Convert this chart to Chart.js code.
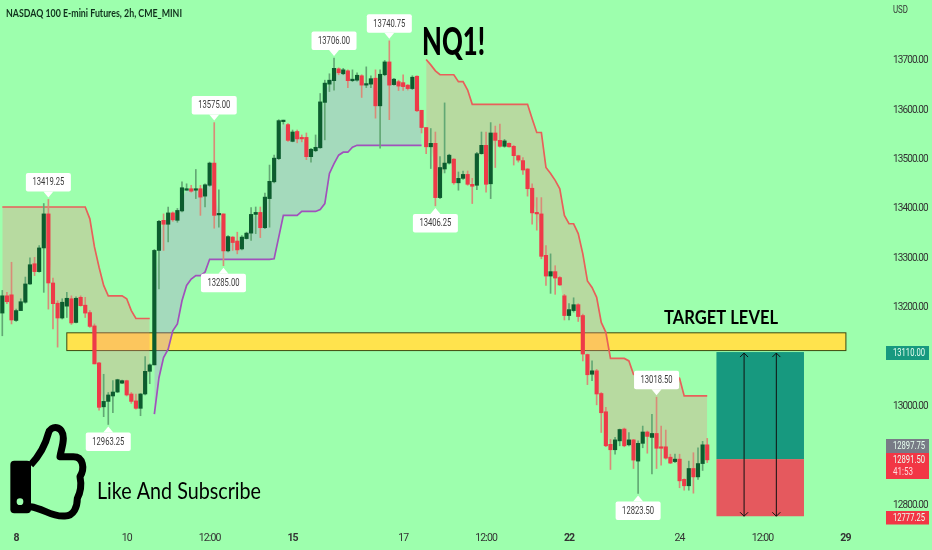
<!DOCTYPE html>
<html>
<head>
<meta charset="utf-8">
<title>NQ1!</title>
<script src="https://cdn.jsdelivr.net/npm/chart.js@4"></script>
<style>
  html, body { margin: 0; padding: 0; background: #9dffad; }
  canvas { display: block; }
</style>
</head>
<body>
<canvas id="nq-chart" width="932" height="550"></canvas>
<script>
// 2h bars
const opens = [
  13189,13224,13226,13174,13194,13211,13248,13289,13273,13321,
  13390,13250,13209,13179,13203,13218,13170,13221,13205,13190,
  13163,13088,12999,13010,13021,13029,13047,13052,13025,13011,
  12996,13025,13071,13084,13316,13377,13369,13392,13377,13396,
  13438,13441,13438,13441,13426,13448,13493,13388,13390,13315,
  13343,13335,13319,13340,13351,13389,13393,13362,13421,13455,
  13502,13577,13571,13537,13557,13545,13545,13506,13518,13524,
  13616,13653,13660,13684,13674,13680,13660,13661,13670,13651,
  13653,13665,13609,13672,13698,13652,13658,13656,13651,13644,
  13669,13600,13565,13526,13533,13423,13481,13493,13501,13453,
  13462,13470,13450,13448,13512,13529,13451,13554,13539,13527,
  13533,13527,13508,13498,13481,13442,13392,13390,13306,13264,
  13273,13261,13224,13184,13194,13206,13184,13105,13065,13072,
  13026,12989,12923,12912,12930,12954,12922,12932,12889,12925,
  12948,12937,12945,12918,12918,12897,12888,12893,12852,12839,
  12874,12857,12884,12922
];
const highs = [
  13235,13231,13292,13197,13218,13262,13301,13302,13326,13411,
  13419.25,13260,13214,13218,13231,13224,13222,13224,13221,13194,
  13167,13089,13065,13028,13052,13055,13053,13053,13028,13025,
  13026,13101,13086,13318,13377,13390,13404,13394,13401,13455,
  13451,13448,13480,13448,13451,13495,13575,13439,13390,13346,
  13344,13353,13346,13353,13403,13404,13404,13432,13489,13509,
  13581,13580,13573,13560,13560,13550,13554,13523,13550,13634,
  13661,13674,13706,13686,13685,13682,13682,13676,13672,13688,
  13670,13682,13682,13701,13740.75,13665,13661,13672,13652,13670,
  13670,13600,13565,13563,13556,13506,13615,13511,13502,13475,
  13477,13477,13462,13515,13556,13556,13575,13568,13572,13541,
  13534,13529,13509,13504,13482,13451,13423,13423,13326,13309,
  13285,13263,13227,13208,13220,13208,13187,13106,13092,13075,
  13028,12998,12933,12937,12954,12956,12947,12933,12930,12960,
  12950,12984,13018.5,12960,12952,12903,12903,12903,12853,12889,
  12906,12916,12929,12935
];
const lows = [
  13143,13208,13167,13172,13194,13209,13247,13265,13272,13231,
  13197,13157,13120,13177,13180,13166,13169,13203,13180,13160,
  13086,12992,12979,12963.25,12987,13028,13046,13021,13006,12994,
  12981,13023,13046,13084,13238,13316,13333,13375,13373,13394,
  13438,13434,13421,13387,13404,13446,13361,13363,13285,13313,
  13316,13309,13317,13339,13336,13350,13342,13360,13363,13453,
  13500,13572,13537,13536,13534,13536,13500,13495,13516,13523,
  13540,13638,13641,13672,13672,13646,13658,13659,13626,13646,
  13646,13584,13523,13670,13581,13651,13640,13640,13641,13642,
  13597,13554,13512,13482,13406.25,13421,13473,13491,13450,13438,
  13460,13448,13411,13439,13511,13434,13421,13484,13525,13525,
  13525,13489,13495,13470,13426,13369,13357,13299,13245,13229,
  13227,13245,13175,13175,13191,13172,13092,13044,13052,13003,
  12947,12918,12872,12903,12920,12918,12920,12874,12823.5,12916,
  12905,12863,12874,12881,12893,12884,12886,12835,12830,12830,
  12824,12852,12870,12886
];
const closes = [
  13224,13212,13175,13194,13212,13248,13287,13273,13321,13390,
  13250,13208,13179,13211,13219,13169,13219,13204,13189,13162,
  13086,12998,13010,13023,13029,13054,13052,13023,13010,12996,
  13025,13071,13084,13316,13375,13369,13392,13378,13397,13443,
  13441,13436,13440,13424,13449,13493,13387,13390,13315,13344,
  13332,13317,13343,13351,13389,13393,13362,13424,13456,13503,
  13579,13579,13539,13556,13542,13542,13506,13521,13525,13617,
  13655,13661,13685,13676,13682,13660,13663,13671,13651,13653,
  13664,13609,13673,13698,13651,13663,13649,13648,13644,13667,
  13599,13565,13526,13533,13423,13484,13493,13509,13453,13462,
  13470,13450,13446,13512,13529,13450,13554,13539,13527,13538,
  13526,13508,13499,13479,13441,13392,13390,13304,13264,13273,
  13260,13246,13184,13196,13206,13182,13106,13064,13072,13025,
  12987,12920,12912,12932,12953,12920,12932,12891,12925,12948,
  12939,12945,12915,12915,12895,12885,12893,12849,12839,12874,
  12857,12884,12922,12891.5
];

// supertrend, red while above price and purple while below
const trendDown = [
  13404,13404,13404,13404,13404,13404,13404,13404,13404,13404,
  13404,13404,13404,13404,13404,13404,13404,13404,13404,13380,
  13323,13282,13245,13224,13224,13224,13224,13218,13194,13178,
  13178,13178,13178,null,null,null,null,null,null,null,
  null,null,null,null,null,null,null,null,null,null,
  null,null,null,null,null,null,null,null,null,null,
  null,null,null,null,null,null,null,null,null,null,
  null,null,null,null,null,null,null,null,null,null,
  null,null,null,null,null,null,null,null,null,null,
  null,null,13703,13692,13680,13672,13672,13672,13672,13658,
  13658,13641,13612,13612,13612,13612,13612,13612,13612,13612,
  13612,13612,13612,13612,13612,13583,13555,13555,13484,13472,
  13458,13441,13387,13370,13370,13350,13309,13254,13241,13221,
  13170,13150,13097,13097,13097,13097,13092,13065,13062,13062,
  13062,13062,13062,13062,13062,13062,13062,13057,13021,13021,
  13021,13021,13021,13021
];
const trendUp = [
  null,null,null,null,null,null,null,null,null,null,
  null,null,null,null,null,null,null,null,null,null,
  null,null,null,null,null,null,null,null,null,null,
  null,null,null,12984,13058,13099,13116,13153,13167,13214,
  13245,13258,13265,13265,13272,13298,13298,13298,13298,13298,
  13298,13298,13298,13298,13298,13298,13298,13298,13298,13299,
  13343,13387,13387,13387,13387,13395,13395,13395,13395,13399,
  13411,13472,13492,13509,13515,13515,13525,13529,13529,13529,
  13529,13529,13529,13529,13529,13529,13529,13529,13529,13529,
  13529,13529,null,null,null,null,null,null,null,null,
  null,null,null,null,null,null,null,null,null,null,
  null,null,null,null,null,null,null,null,null,null,
  null,null,null,null,null,null,null,null,null,null,
  null,null,null,null,null,null,null,null,null,null,
  null,null,null,null,null,null,null,null,null,null,
  null,null,null,null
];

const slotCount = 191; // bars plus the empty space on the right
const timeTickBars = [3, 27, 45, 63, 87, 105, 123, 147, 165, 183];
const timeTickLabels = ['8', '10', '12:00', '15', '17', '12:00', '22', '24', '12:00', '29'];
const boldTimeTicks = ['8', '15', '22', '29'];
const priceTicks = [13700, 13600, 13500, 13400, 13300, 13200, 13100, 13000, 12800];

const calloutBars = [10, 46, 72, 84, 142, 23, 48, 94, 138];
const calloutValues = [13419.25, 13575, 13706, 13740.75, 13018.5, 12963.25, 13285, 13406.25, 12823.5];
const calloutAbove = [true, true, true, true, true, false, false, false, false];

const targetZone = [14, 183.1, 13149, 13113]; // bar from, bar to, top, bottom
const positionBars = [155, 174];
const positionPrices = [13110, 12893, 12777.25];
const arrowBars = [161, 168];

const BG = '#9dffad';
const TEXT_FONT = 'Lato, Roboto, sans-serif';
const NUM_FONT = 'Roboto, sans-serif';
const GREEN = '#0c5c2e';
const RED = '#ee3a48';

const barLabels = [];
for (let i = 0; i < slotCount; i++) barLabels.push(String(i));
const isUp = opens.map((o, i) => closes[i] >= o);
const midPrice = opens.map((o, i) => (o + closes[i]) / 2);

// fillText squeezes to maxWidth, the picture's fonts are narrow ones
function drawText(ctx, text, x, y, font, color, align, maxWidth) {
  ctx.font = font;
  ctx.fillStyle = color;
  ctx.textAlign = align || 'left';
  ctx.textBaseline = 'middle';
  ctx.fillText(text, x, y, maxWidth);
}

function drawCallout(ctx, x, y, value, above) {
  const w = 45, h = 18.5, gap = 8;
  const top = above ? y - gap - h : y + gap;
  ctx.fillStyle = '#ffffff';
  ctx.beginPath();
  ctx.roundRect(x - w / 2, top, w, h, 2);
  ctx.fill();
  // little pointer towards the wick
  ctx.beginPath();
  ctx.moveTo(x - 5, above ? top + h : top);
  ctx.lineTo(x + 5, above ? top + h : top);
  ctx.lineTo(x, above ? top + h + 6 : top - 6);
  ctx.closePath();
  ctx.fill();
  drawText(ctx, value.toFixed(2), x, top + h / 2 + 0.5, '10.5px ' + NUM_FONT, '#3a3a3a', 'center', 32);
}

function drawArrow(ctx, x, top, bottom) {
  ctx.strokeStyle = '#111111';
  ctx.lineWidth = 1;
  ctx.beginPath();
  ctx.moveTo(x, top);
  ctx.lineTo(x, bottom);
  ctx.moveTo(x - 4, top + 4);
  ctx.lineTo(x, top);
  ctx.lineTo(x + 4, top + 4);
  ctx.moveTo(x - 4, bottom - 4);
  ctx.lineTo(x, bottom);
  ctx.lineTo(x + 4, bottom - 4);
  ctx.stroke();
}

function drawThumb(ctx) {
  ctx.save();
  ctx.translate(0, 410);
  ctx.scale(1 / 3, 1 / 3);
  ctx.fillStyle = '#000000';
  ctx.beginPath();
  ctx.roundRect(31, 152, 62, 158, 12);
  ctx.fill();
  ctx.strokeStyle = '#000000';
  ctx.lineWidth = 21;
  ctx.lineJoin = 'round';
  ctx.beginPath();
  ctx.moveTo(92, 165);
  ctx.bezierCurveTo(115, 140, 135, 110, 145, 70);
  ctx.bezierCurveTo(152, 45, 190, 45, 190, 85);
  ctx.bezierCurveTo(190, 105, 182, 125, 180, 140);
  ctx.lineTo(220, 140);
  ctx.bezierCurveTo(250, 140, 255, 175, 240, 200);
  ctx.bezierCurveTo(245, 225, 240, 250, 232, 265);
  ctx.bezierCurveTo(232, 290, 222, 318, 195, 318);
  ctx.bezierCurveTo(155, 322, 130, 295, 92, 290);
  ctx.stroke();
  ctx.fillStyle = BG;
  ctx.beginPath();
  ctx.arc(60, 275, 10, 0, Math.PI * 2);
  ctx.fill();
  ctx.restore();
}

const underlay = {
  id: 'underlay',
  beforeDraw(chart) {
    // tightens the axis labels too, they go through the same context
    chart.ctx.letterSpacing = '-0.9px';
  },
  beforeDatasetsDraw(chart) {
    const { ctx, scales: { x, y } } = chart;
    const left = x.getPixelForValue(targetZone[0]);
    const right = x.getPixelForValue(targetZone[1]);
    const top = y.getPixelForValue(targetZone[2]);
    const bottom = y.getPixelForValue(targetZone[3]);
    ctx.save();
    ctx.fillStyle = '#ffe34d';
    ctx.fillRect(left, top, right - left, bottom - top);
    ctx.strokeStyle = '#3d4a10';
    ctx.lineWidth = 1;
    ctx.strokeRect(left, top, right - left, bottom - top);
    ctx.restore();
  }
};

const overlay = {
  id: 'overlay',
  afterDatasetsDraw(chart) {
    const { ctx, scales: { x, y } } = chart;
    ctx.save();
    ctx.letterSpacing = '0px';

    // long position box
    const posLeft = x.getPixelForValue(positionBars[0]);
    const posRight = x.getPixelForValue(positionBars[1]);
    const posTop = y.getPixelForValue(positionPrices[0]);
    const posMid = y.getPixelForValue(positionPrices[1]);
    const posBottom = y.getPixelForValue(positionPrices[2]);
    ctx.fillStyle = '#17997f';
    ctx.fillRect(posLeft, posTop, posRight - posLeft, posMid - posTop);
    ctx.fillStyle = '#e5595e';
    ctx.fillRect(posLeft, posMid, posRight - posLeft, posBottom - posMid);
    arrowBars.forEach(bar => drawArrow(ctx, x.getPixelForValue(bar), posTop + 1, posBottom));

    calloutBars.forEach((bar, i) => {
      drawCallout(ctx, x.getPixelForValue(bar), y.getPixelForValue(calloutValues[i]), calloutValues[i], calloutAbove[i]);
    });

    drawText(ctx, 'NASDAQ 100 E-mini Futures, 2h, CME_MINI', 6, 13.5, 'bold 11px ' + TEXT_FONT, '#10301c', 'left', 176);
    drawText(ctx, 'USD', 893, 10, '10px ' + NUM_FONT, '#333333', 'left', 15);
    drawText(ctx, 'NQ1!', 422, 43, '900 37px ' + TEXT_FONT, '#000000', 'left', 63);
    drawText(ctx, 'TARGET LEVEL', 664, 318, 'bold 19px ' + TEXT_FONT, '#000000', 'left', 114);
    drawText(ctx, 'Like And Subscribe', 97, 492, '23px ' + TEXT_FONT, '#000000', 'left', 164);
    drawThumb(ctx);

    // price tags on the axis
    const tag = (value, top, h, color) => {
      ctx.fillStyle = color;
      ctx.fillRect(886, top, 43, h);
      drawText(ctx, value, 893, top + 7.5, '10.5px ' + NUM_FONT, '#e8fff0', 'left', 32);
    };
    tag('13110.00', 346, 14, '#17997f');
    tag('12897.75', 439, 14, '#787b86');
    tag('12891.50', 453, 26, '#f23645');
    drawText(ctx, '41:53', 893, 472, '10.5px ' + NUM_FONT, '#ffd9dc', 'left', 20);
    tag('12777.25', 511, 13.5, '#f23645');
    ctx.restore();
  }
};

new Chart(document.getElementById('nq-chart'), {
  data: {
    labels: barLabels,
    datasets: [
      {
        type: 'line',
        label: 'mid',
        data: midPrice,
        borderWidth: 0,
        borderColor: 'transparent',
        pointRadius: 0,
        order: 5
      },
      {
        type: 'line',
        label: 'Down trend',
        data: trendDown,
        borderColor: '#e8605a',
        borderWidth: 1.7,
        pointRadius: 0,
        tension: 0,
        spanGaps: false,
        fill: { target: 0 },
        backgroundColor: 'rgba(244, 132, 132, 0.3)',
        order: 4
      },
      {
        type: 'line',
        label: 'Up trend',
        data: trendUp,
        borderColor: '#a052bb',
        borderWidth: 1.7,
        pointRadius: 0,
        tension: 0,
        spanGaps: false,
        fill: { target: 0 },
        backgroundColor: 'rgba(183, 132, 225, 0.3)',
        order: 3
      },
      {
        type: 'bar',
        label: 'Wicks',
        data: highs.map((h, i) => [lows[i], h]),
        backgroundColor: isUp.map(up => up ? '#62a874' : '#d98b78'),
        barThickness: 1,
        grouped: false,
        order: 2
      },
      {
        type: 'bar',
        label: 'Bodies',
        data: opens.map((o, i) => [o, closes[i]]),
        backgroundColor: isUp.map(up => up ? GREEN : RED),
        barThickness: 3.5,
        minBarLength: 1.5,
        grouped: false,
        order: 1
      }
    ]
  },
  options: {
    responsive: false,
    animation: false,
    devicePixelRatio: 1,
    layout: { padding: 0 },
    plugins: {
      legend: { display: false },
      title: { display: false },
      tooltip: { enabled: false }
    },
    scales: {
      x: {
        type: 'category',
        offset: true,
        grid: { display: false, drawTicks: false },
        border: { display: false },
        afterBuildTicks(scale) {
          scale.ticks = timeTickBars.map(v => ({ value: v }));
        },
        afterFit(scale) {
          scale.height = 25;
          scale.paddingLeft = 0;
          scale.paddingRight = 0;
        },
        ticks: {
          autoSkip: false,
          maxRotation: 0,
          padding: 7,
          color: '#333333',
          font: (c) => {
            const label = timeTickLabels[c.index];
            return boldTimeTicks.includes(label)
              ? { family: NUM_FONT, size: 10.5, weight: 'bold' }
              : { family: NUM_FONT, size: 10.5 };
          },
          callback: (value, index) => timeTickLabels[index]
        }
      },
      y: {
        position: 'right',
        min: 12759.5,
        max: 13823.5,
        grid: { display: false, drawTicks: false },
        border: { display: false },
        afterBuildTicks(scale) {
          scale.ticks = priceTicks.map(v => ({ value: v }));
        },
        afterFit(scale) {
          scale.width = 52;
          // the tick padding would otherwise push the plot away from the top
          scale.paddingTop = 0;
          scale.paddingBottom = 0;
        },
        ticks: {
          padding: 13,
          color: '#333333',
          font: { family: NUM_FONT, size: 10 },
          callback: (value) => value.toFixed(2)
        }
      }
    }
  },
  plugins: [underlay, overlay]
});
</script>
</body>
</html>
